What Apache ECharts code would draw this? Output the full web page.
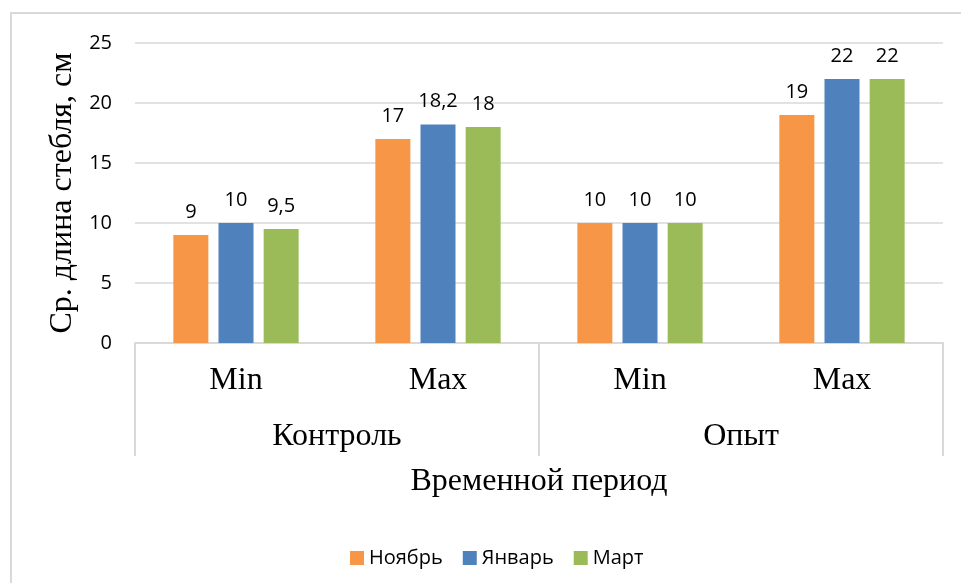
<!DOCTYPE html>
<html>
<head>
<meta charset="utf-8">
<script src="https://cdn.jsdelivr.net/npm/echarts@6/dist/echarts.min.js"></script>
<style>
  html, body { margin: 0; padding: 0; background: #fff; }
  #chart { width: 961px; height: 583px; }
</style>
</head>
<body>
<div id="chart"></div>
<script>
// данные диаграммы
var categories = ['Min', 'Max', 'Min', 'Max'];
var groups = ['Контроль', 'Опыт'];
var seriesNames = ['Ноябрь', 'Январь', 'Март'];
var november = [9, 17, 10, 19];
var january = [10, 18.2, 10, 22];
var march = [9.5, 18, 10, 22];
var colors = ['#F79646', '#4F81BD', '#9BBB59'];

var serif = '"Liberation Serif", "Times New Roman", serif';
var sans = '"Open Sans", Lato, sans-serif';

function bar(name, data, color) {
    return {
        name: name,
        type: 'bar',
        xAxisIndex: 0,
        data: data,
        barWidth: 35,
        barGap: '29%',
        itemStyle: { color: color },
        label: {
            show: true,
            position: 'top',
            distance: 13,
            fontFamily: sans,
            fontSize: 20,
            color: '#000',
            formatter: function (p) { return String(p.value).replace('.', ','); }
        }
    };
}

var chart = echarts.init(document.getElementById('chart'));
chart.setOption({
    animation: false,
    backgroundColor: '#fff',
    graphic: [{
        type: 'rect',
        shape: { x: 11, y: 13, width: 1000, height: 1000 },
        style: { fill: 'none', stroke: '#d9d9d9', lineWidth: 2 },
        silent: true
    }],
    grid: { left: 135, right: 18, top: 43, bottom: 240 },
    legend: {
        top: 543,
        left: 345,
        itemWidth: 14,
        itemHeight: 14,
        itemGap: 20,
        icon: 'rect',
        textStyle: { fontFamily: sans, fontSize: 20, color: '#000' },
        data: seriesNames
    },
    xAxis: [{
        type: 'category',
        data: categories,
        axisLine: { lineStyle: { color: '#d9d9d9', width: 2 } },
        axisTick: { show: false },
        axisLabel: { margin: 22, fontFamily: serif, fontSize: 32, color: '#000' }
    }, {
        type: 'category',
        data: groups,
        position: 'bottom',
        axisLine: { show: false },
        axisTick: { show: true, length: 113, lineStyle: { color: '#d9d9d9', width: 2 } },
        axisLabel: { margin: 78, fontFamily: serif, fontSize: 32, color: '#000' },
        name: 'Временной период',
        nameLocation: 'middle',
        nameGap: 123,
        nameTextStyle: { fontFamily: serif, fontSize: 32, color: '#000' }
    }],
    yAxis: {
        type: 'value',
        min: 0,
        max: 25,
        interval: 5,
        axisLine: { show: false },
        axisTick: { show: false },
        splitLine: { lineStyle: { color: '#d9d9d9', width: 1.5 } },
        axisLabel: { margin: 23, fontFamily: sans, fontSize: 20, color: '#000' },
        name: 'Ср. длина стебля, см',
        nameLocation: 'middle',
        nameGap: 56,
        nameTextStyle: { fontFamily: serif, fontSize: 32, color: '#000' }
    },
    series: [
        bar(seriesNames[0], november, colors[0]),
        bar(seriesNames[1], january, colors[1]),
        bar(seriesNames[2], march, colors[2])
    ]
});
</script>
</body>
</html>
